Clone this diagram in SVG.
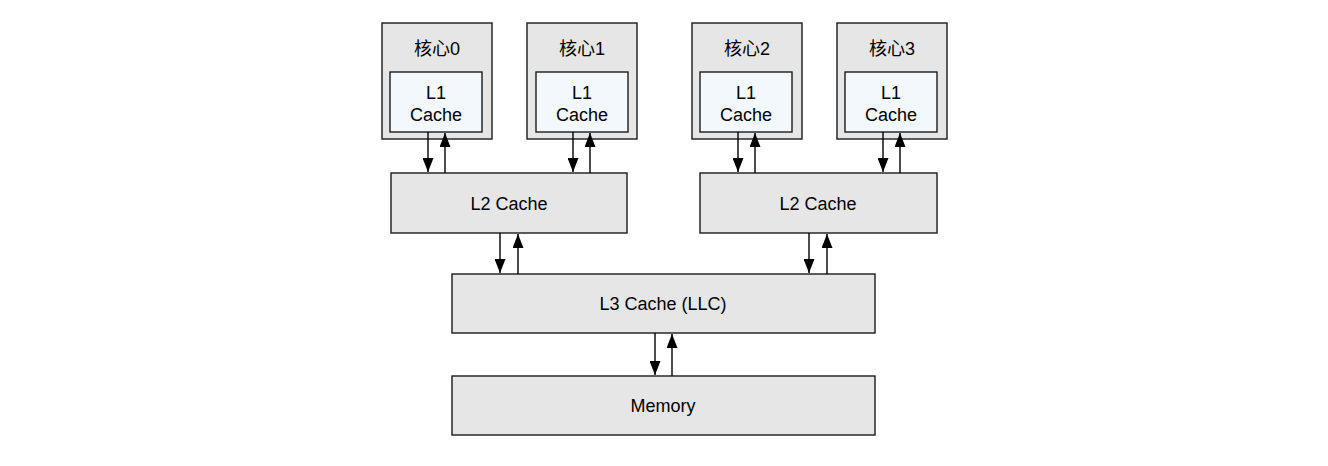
<svg xmlns="http://www.w3.org/2000/svg" width="1328" height="466" viewBox="0 0 1328 466">
<style>
.box{fill:#e6e6e6;stroke:#1a1a1a;stroke-width:1.4}
.l1{fill:#f2f8fc;stroke:#1a1a1a;stroke-width:1.4}
.t{font-family:"Liberation Sans","Noto Sans CJK SC",sans-serif;font-size:18px;fill:#000;text-anchor:middle}
.c{stroke:#000;stroke-width:1.4;fill:none}
</style>
<defs>
<marker id="ah" markerWidth="14" markerHeight="11" refX="14" refY="5.5" orient="auto" markerUnits="userSpaceOnUse" viewBox="0 0 14 11">
<path d="M0,0 L14,5.5 L0,11 Z" fill="#000"/>
</marker>
</defs>
<rect width="1328" height="466" fill="#fff"/>
<g id="core0"><rect class="box" x="382" y="23" width="110" height="116"/><text class="t" x="437" y="54.5">核心0</text>
<rect class="l1" x="390" y="72" width="92" height="60"/><text class="t" x="436" y="98.5">L1</text><text class="t" x="436" y="120.5">Cache</text></g>
<g id="core1"><rect class="box" x="527" y="23" width="110" height="116"/><text class="t" x="582" y="54.5">核心1</text>
<rect class="l1" x="536" y="72" width="92" height="60"/><text class="t" x="582" y="98.5">L1</text><text class="t" x="582" y="120.5">Cache</text></g>
<g id="core2"><rect class="box" x="692" y="23" width="110" height="116"/><text class="t" x="747" y="54.5">核心2</text>
<rect class="l1" x="700" y="72" width="92" height="60"/><text class="t" x="746" y="98.5">L1</text><text class="t" x="746" y="120.5">Cache</text></g>
<g id="core3"><rect class="box" x="837" y="23" width="110" height="116"/><text class="t" x="892" y="54.5">核心3</text>
<rect class="l1" x="845" y="72" width="92" height="60"/><text class="t" x="891" y="98.5">L1</text><text class="t" x="891" y="120.5">Cache</text></g>
<g id="l2a"><rect class="box" x="391" y="173" width="236" height="60"/><text class="t" x="509" y="210">L2 Cache</text></g>
<g id="l2b"><rect class="box" x="700" y="173" width="237" height="60"/><text class="t" x="818" y="210">L2 Cache</text></g>
<g id="l3"><rect class="box" x="452" y="274" width="423" height="59"/><text class="t" x="663" y="310">L3 Cache (LLC)</text></g>
<g id="memory"><rect class="box" x="452" y="376" width="423" height="59"/><text class="t" x="663" y="412">Memory</text></g>
<g id="connectors">
<path class="c" d="M428,132 V172" marker-end="url(#ah)"/>
<path class="c" d="M445,173 V133" marker-end="url(#ah)"/>
<path class="c" d="M573,132 V172" marker-end="url(#ah)"/>
<path class="c" d="M590,173 V133" marker-end="url(#ah)"/>
<path class="c" d="M738,132 V172" marker-end="url(#ah)"/>
<path class="c" d="M755,173 V133" marker-end="url(#ah)"/>
<path class="c" d="M883,132 V172" marker-end="url(#ah)"/>
<path class="c" d="M900,173 V133" marker-end="url(#ah)"/>
<path class="c" d="M500,233 V273" marker-end="url(#ah)"/>
<path class="c" d="M518,274 V234" marker-end="url(#ah)"/>
<path class="c" d="M809,233 V273" marker-end="url(#ah)"/>
<path class="c" d="M827,274 V234" marker-end="url(#ah)"/>
<path class="c" d="M655,333 V375" marker-end="url(#ah)"/>
<path class="c" d="M672,376 V334" marker-end="url(#ah)"/>
</g>
</svg>
